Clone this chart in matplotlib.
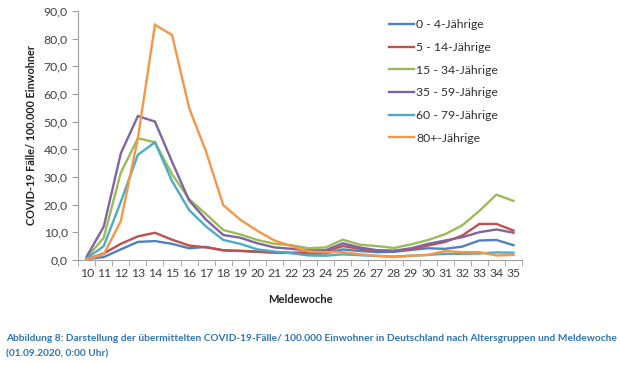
import matplotlib
matplotlib.use("Agg")
import matplotlib.pyplot as plt
from matplotlib.ticker import FuncFormatter

weeks = list(range(10, 36))
series_names = ["0 - 4-Jährige", "5 - 14-Jährige", "15 - 34-Jährige",
                "35 - 59-Jährige", "60 - 79-Jährige", "80+-Jährige"]
age_0_4 = [0.3, 1.0, 3.8, 6.5, 6.8, 5.8, 4.2, 4.7, 3.4, 3.2, 2.9, 2.7, 2.5,
           2.3, 2.3, 3.8, 3.2, 2.8, 2.9, 3.6, 4.2, 4.0, 4.8, 7.0, 7.2, 5.3]
age_5_14 = [0.2, 2.3, 5.8, 8.5, 9.8, 7.3, 5.2, 4.5, 3.5, 3.3, 3.0, 2.6, 2.6,
            2.7, 3.0, 5.0, 4.0, 3.3, 3.2, 3.8, 5.2, 6.5, 8.8, 13.0, 13.0, 10.6]
age_15_34 = [0.8, 8.0, 31.5, 44.0, 42.5, 31.0, 22.0, 16.5, 10.8, 9.2, 7.2, 5.8, 5.3,
             4.2, 4.5, 7.3, 5.5, 5.0, 4.3, 5.6, 7.2, 9.3, 12.5, 17.7, 23.6, 21.3]
age_35_59 = [1.2, 12.0, 38.5, 52.0, 50.0, 35.5, 21.5, 14.5, 9.0, 8.0, 6.0, 4.5, 4.0,
             3.4, 3.5, 6.0, 4.5, 3.5, 3.3, 4.2, 5.8, 7.0, 8.2, 10.0, 11.0, 9.8]
age_60_79 = [0.5, 5.0, 21.0, 38.0, 42.5, 28.5, 18.0, 12.0, 7.2, 5.8, 3.8, 3.0, 2.4,
             1.6, 1.5, 2.0, 1.7, 1.4, 1.2, 1.5, 1.8, 2.2, 2.2, 2.3, 2.7, 2.6]
age_80 = [0.2, 2.0, 14.0, 44.0, 85.0, 81.3, 55.0, 39.0, 19.8, 14.5, 10.5, 7.0, 5.0,
          3.0, 2.8, 2.8, 2.0, 1.5, 1.0, 1.5, 1.8, 3.2, 2.8, 2.8, 1.6, 1.8]
colors = ["#4F81BD", "#C0504D", "#9BBB59", "#8064A2", "#4BACC6", "#F79646"]
y_ticks = [0, 10, 20, 30, 40, 50, 60, 70, 80, 90]

plt.rcParams['font.family'] = ['Lato', 'DejaVu Sans']

fig = plt.figure(figsize=(6.2, 3.65), dpi=100)
ax = fig.add_axes([0.126, 0.288, 0.716, 0.682])

data = [age_0_4, age_5_14, age_15_34, age_35_59, age_60_79, age_80]
for name, vals, c in zip(series_names, data, colors):
    ax.plot(weeks, vals, color=c, lw=1.7, label=name, solid_joinstyle='miter')

ax.set_xlim(weeks[0] - 0.5, weeks[-1] + 0.5)
ax.set_ylim(0, 90)
ax.set_yticks(y_ticks)
ax.yaxis.set_major_formatter(FuncFormatter(lambda v, p: f"{v:.1f}".replace(".", ",")))
ax.set_xticks(weeks)
ax.set_xticks([w + 0.5 for w in [weeks[0] - 1] + weeks], minor=True)
ax.tick_params(axis='x', which='major', length=0, labelsize=8.8, colors='#404040', pad=6)
ax.tick_params(axis='x', which='minor', length=4, color='#A0A0A0', direction='out')
ax.tick_params(axis='y', length=4, color='#A0A0A0', labelsize=8.8, labelcolor='#404040')

for s in ['top', 'right']:
    ax.spines[s].set_visible(False)
for s in ['left', 'bottom']:
    ax.spines[s].set_color('#A0A0A0')
    ax.spines[s].set_linewidth(0.8)

ax.set_ylabel("COVID-19 Fälle/ 100.000 Einwohner", fontsize=7.8, fontweight='bold', color='#202020', labelpad=5)
ax.set_xlabel("Meldewoche", fontsize=8, fontweight='bold', color='#202020', labelpad=11)

leg = ax.legend(loc='upper left', bbox_to_anchor=(0.675, 1.01), frameon=False, fontsize=8.8,
                handlelength=2.1, handletextpad=0.15, labelspacing=0.95)
for t in leg.get_texts():
    t.set_color('#303030')

cap_color = '#2E74B5'
fig.text(0.01, 0.072, "Abbildung 8: Darstellung der übermittelten COVID-19-Fälle/ 100.000 Einwohner in Deutschland nach Altersgruppen und Meldewoche",
         fontsize=7.3, fontweight='bold', color=cap_color, va='center', ha='left')
fig.text(0.01, 0.030, "(01.09.2020, 0:00 Uhr)",
         fontsize=7.3, fontweight='bold', color=cap_color, va='center', ha='left')

fig.savefig("out.png", dpi=100)
